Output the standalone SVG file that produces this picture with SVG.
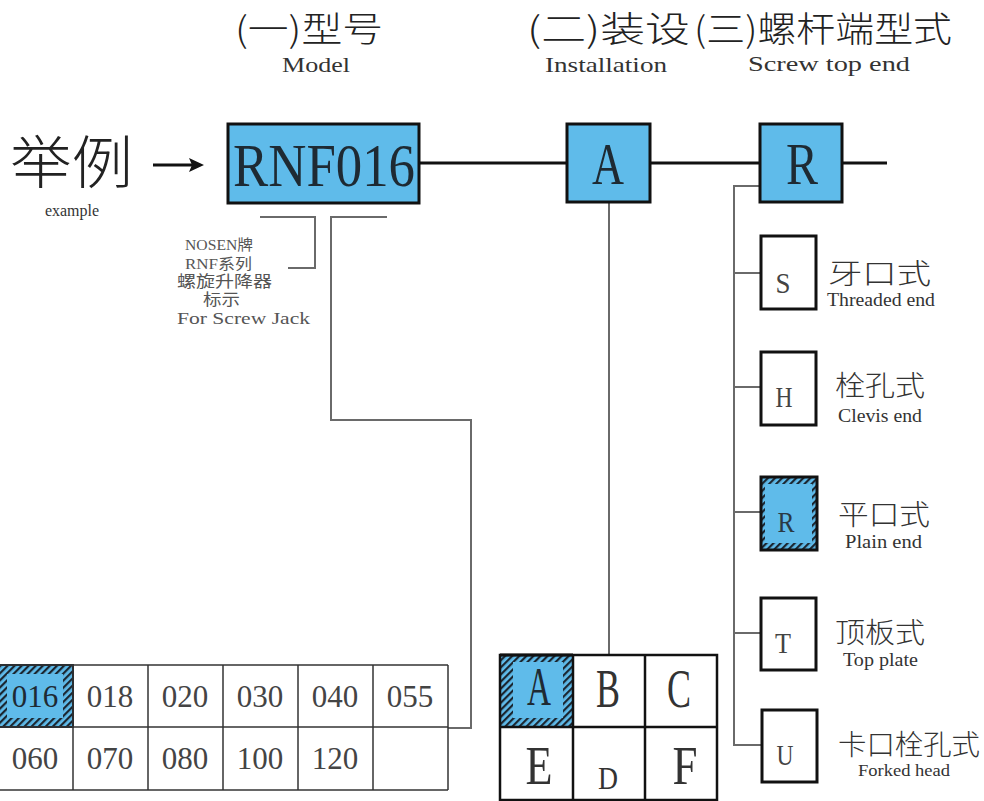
<svg xmlns="http://www.w3.org/2000/svg" width="984" height="801" viewBox="0 0 984 801">
<defs>
<style>
.bg{fill:#ffffff}
.blue{fill:#5fbbea}
.box{stroke:#111;stroke-width:3}
.obox{fill:#fff;stroke:#111;stroke-width:3}
.main{stroke:#111;stroke-width:3;fill:none}
.conn{stroke:#6a6a6a;stroke-width:2;fill:none}
.grid{stroke:#333;stroke-width:1.5;fill:none}
.grid2{stroke:#111;stroke-width:2.5;fill:none}
.serif{font-family:"Liberation Serif","DejaVu Serif",serif}
.cjk{font-family:"Noto Sans CJK SC","Noto Sans",sans-serif;font-weight:300}
.mix{font-family:"Liberation Serif","Noto Sans CJK SC",serif}
.dark{fill:#1e2a33}
.gray{fill:#444}
.lgray{fill:#555}
</style>
<pattern id="hatch" patternUnits="userSpaceOnUse" width="5" height="5" patternTransform="rotate(45)">
<rect width="5" height="5" fill="#5fbbea"/>
<rect width="2.2" height="5" fill="#1b2630"/>
</pattern>
</defs>
<rect class="bg" x="0" y="0" width="984" height="801"/>

<g id="headers">
<text class="cjk" x="235" y="42" font-size="35" fill="#222" textLength="148" lengthAdjust="spacingAndGlyphs">(一)型号</text>
<text class="serif" x="316" y="72" font-size="21" fill="#333" text-anchor="middle" textLength="68" lengthAdjust="spacingAndGlyphs">Model</text>
<text class="cjk" x="527" y="42" font-size="35" fill="#222" textLength="163" lengthAdjust="spacingAndGlyphs">(二)装设</text>
<text class="serif" x="606" y="72" font-size="21" fill="#333" text-anchor="middle" textLength="122" lengthAdjust="spacingAndGlyphs">Installation</text>
<text class="cjk" x="694" y="42" font-size="35" fill="#222" textLength="258" lengthAdjust="spacingAndGlyphs">(三)螺杆端型式</text>
<text class="serif" x="829" y="71" font-size="21" fill="#333" text-anchor="middle" textLength="162" lengthAdjust="spacingAndGlyphs">Screw top end</text>
</g>

<g id="example">
<text class="cjk" x="10" y="183" font-size="57" fill="#222" textLength="123" lengthAdjust="spacingAndGlyphs">举例</text>
<text class="serif" x="72" y="216" font-size="16" fill="#333" text-anchor="middle">example</text>
<line x1="153" y1="165" x2="192" y2="165" stroke="#111" stroke-width="3"/>
<polygon points="204,165 189,158 192,165 189,172" fill="#111"/>
</g>

<g id="connectors">
<line class="main" x1="419" y1="163" x2="567" y2="163"/>
<line class="main" x1="650" y1="163" x2="760" y2="163"/>
<line class="main" x1="842" y1="163" x2="887" y2="163"/>
<polyline class="conn" points="260,217 315,217 315,268 288,268"/>
<polyline class="conn" points="387,217 331,217 331,420 471,420 471,728 448,728"/>
<line class="conn" x1="609" y1="202" x2="609" y2="655"/>
<polyline class="conn" points="760,186 734,186 734,745 762,745"/>
<line class="conn" x1="734" y1="273" x2="761" y2="273"/>
<line class="conn" x1="734" y1="387" x2="761" y2="387"/>
<line class="conn" x1="734" y1="512" x2="761" y2="512"/>
<line class="conn" x1="734" y1="633" x2="761" y2="633"/>
</g>

<g id="node-rnf016">
<rect class="blue box" x="228" y="124" width="191" height="79"/>
<text class="serif dark" x="233" y="186" font-size="62" textLength="182" lengthAdjust="spacingAndGlyphs">RNF016</text>
</g>

<g id="node-brand-note">
<text class="mix lgray" x="185" y="250" font-size="15" textLength="68" lengthAdjust="spacingAndGlyphs">NOSEN牌</text>
<text class="mix lgray" x="185" y="269" font-size="15" textLength="67" lengthAdjust="spacingAndGlyphs">RNF系列</text>
<text class="mix lgray" x="177" y="287" font-size="16" textLength="95" lengthAdjust="spacingAndGlyphs">螺旋升降器</text>
<text class="mix lgray" x="203" y="305" font-size="16" textLength="37" lengthAdjust="spacingAndGlyphs">标示</text>
<text class="serif lgray" x="177" y="324" font-size="17" textLength="133" lengthAdjust="spacingAndGlyphs">For Screw Jack</text>
</g>

<g id="node-a">
<rect class="blue box" x="567" y="124" width="83" height="78"/>
<text class="serif dark" x="608" y="184" font-size="60" text-anchor="middle" textLength="32" lengthAdjust="spacingAndGlyphs">A</text>
</g>

<g id="node-r">
<rect class="blue box" x="760" y="124" width="82" height="78"/>
<text class="serif dark" x="802" y="184" font-size="60" text-anchor="middle" textLength="32" lengthAdjust="spacingAndGlyphs">R</text>
</g>

<g id="model-table">
<rect x="-2" y="665" width="75" height="62" fill="url(#hatch)"/>
<rect x="7" y="674" width="56" height="44" fill="#5fbbea"/>
<rect x="-2" y="665" width="75" height="62" fill="none" stroke="#1b2630" stroke-width="2"/>
<line class="grid" x1="0" y1="665" x2="448" y2="665"/>
<line class="grid" x1="0" y1="727" x2="448" y2="727"/>
<line class="grid" x1="0" y1="790" x2="448" y2="790"/>
<line class="grid" x1="73" y1="665" x2="73" y2="790"/>
<line class="grid" x1="148" y1="665" x2="148" y2="790"/>
<line class="grid" x1="223" y1="665" x2="223" y2="790"/>
<line class="grid" x1="298" y1="665" x2="298" y2="790"/>
<line class="grid" x1="373" y1="665" x2="373" y2="790"/>
<line class="grid" x1="448" y1="665" x2="448" y2="790"/>
<g class="serif gray" font-size="31" text-anchor="middle">
<text x="35" y="707" fill="#1e2a33">016</text>
<text x="110" y="707">018</text>
<text x="185" y="707">020</text>
<text x="260" y="707">030</text>
<text x="335" y="707">040</text>
<text x="410" y="707">055</text>
<text x="35" y="769">060</text>
<text x="110" y="769">070</text>
<text x="185" y="769">080</text>
<text x="260" y="769">100</text>
<text x="335" y="769">120</text>
</g>
</g>

<g id="install-table">
<rect x="500" y="655" width="73" height="72" fill="url(#hatch)"/>
<rect x="513" y="662" width="50" height="56" fill="#5fbbea"/>
<rect class="grid2" x="500" y="655" width="217" height="145"/>
<line class="grid2" x1="500" y1="727" x2="717" y2="727"/>
<line class="grid2" x1="573" y1="655" x2="573" y2="800"/>
<line class="grid2" x1="645" y1="655" x2="645" y2="800"/>
<line x1="500" y1="655" x2="573" y2="655" stroke="#111" stroke-width="3"/>
<g class="serif" font-size="54" text-anchor="middle">
<text x="539" y="705" fill="#1e2a33" textLength="24" lengthAdjust="spacingAndGlyphs">A</text>
<text x="608" y="707" fill="#333" textLength="24" lengthAdjust="spacingAndGlyphs">B</text>
<text x="679" y="707" fill="#333" textLength="24" lengthAdjust="spacingAndGlyphs">C</text>
<text x="539" y="784" fill="#333" textLength="27" lengthAdjust="spacingAndGlyphs">E</text>
<text x="685" y="784" fill="#333" textLength="25" lengthAdjust="spacingAndGlyphs">F</text>
</g>
<text class="serif" x="608" y="789" font-size="31" fill="#333" text-anchor="middle" textLength="20" lengthAdjust="spacingAndGlyphs">D</text>
</g>

<g id="opt-s">
<rect class="obox" x="761" y="236" width="55" height="73"/>
<text class="serif gray" x="783" y="293" font-size="30" text-anchor="middle" textLength="15" lengthAdjust="spacingAndGlyphs">S</text>
<text class="cjk" x="828" y="284" font-size="28" fill="#333" textLength="103" lengthAdjust="spacingAndGlyphs">牙口式</text>
<text class="serif" x="827" y="306" font-size="18" fill="#333" textLength="108" lengthAdjust="spacingAndGlyphs">Threaded end</text>
</g>

<g id="opt-h">
<rect class="obox" x="761" y="352" width="55" height="73"/>
<text class="serif gray" x="784" y="407" font-size="30" text-anchor="middle" textLength="17" lengthAdjust="spacingAndGlyphs">H</text>
<text class="cjk" x="835" y="396" font-size="28" fill="#333" textLength="90" lengthAdjust="spacingAndGlyphs">栓孔式</text>
<text class="serif" x="838" y="422" font-size="18" fill="#333" textLength="84" lengthAdjust="spacingAndGlyphs">Clevis end</text>
</g>

<g id="opt-r">
<rect x="761" y="477" width="56" height="73" fill="url(#hatch)"/>
<rect x="765" y="484" width="47" height="59" fill="#5fbbea"/>
<rect x="761" y="477" width="56" height="73" fill="none" stroke="#111" stroke-width="3"/>
<text class="serif" x="786" y="532" font-size="30" fill="#2a3a45" text-anchor="middle" textLength="17" lengthAdjust="spacingAndGlyphs">R</text>
<text class="cjk" x="838" y="525" font-size="28" fill="#333" textLength="92" lengthAdjust="spacingAndGlyphs">平口式</text>
<text class="serif" x="845" y="548" font-size="18" fill="#333" textLength="77" lengthAdjust="spacingAndGlyphs">Plain end</text>
</g>

<g id="opt-t">
<rect class="obox" x="761" y="598" width="55" height="72"/>
<text class="serif gray" x="783" y="653" font-size="30" text-anchor="middle" textLength="16" lengthAdjust="spacingAndGlyphs">T</text>
<text class="cjk" x="835" y="643" font-size="28" fill="#333" textLength="90" lengthAdjust="spacingAndGlyphs">顶板式</text>
<text class="serif" x="843" y="666" font-size="18" fill="#333" textLength="75" lengthAdjust="spacingAndGlyphs">Top plate</text>
</g>

<g id="opt-u">
<rect class="obox" x="762" y="710" width="55" height="72"/>
<text class="serif gray" x="785" y="765" font-size="30" text-anchor="middle" textLength="17" lengthAdjust="spacingAndGlyphs">U</text>
<text class="cjk" x="838" y="755" font-size="28" fill="#333" textLength="142" lengthAdjust="spacingAndGlyphs">卡口栓孔式</text>
<text class="serif" x="858" y="776" font-size="16" fill="#333" textLength="92" lengthAdjust="spacingAndGlyphs">Forked head</text>
</g>
</svg>
